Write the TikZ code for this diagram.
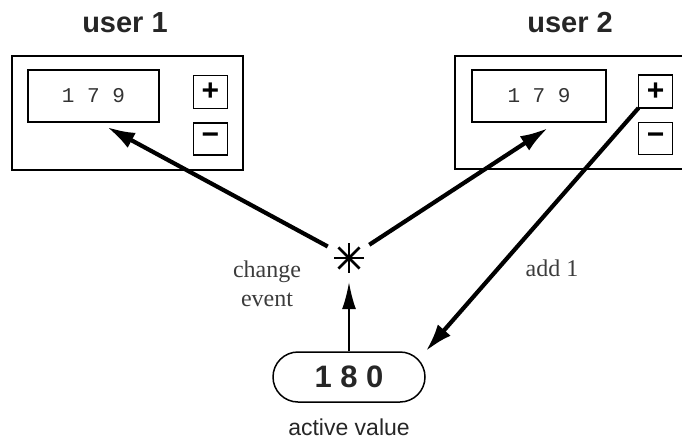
\documentclass[tikz,border=0pt]{standalone}
\usepackage{fontspec}
\setmainfont{Liberation Serif}
\setsansfont{Liberation Sans}
\setmonofont{Liberation Mono}
\usetikzlibrary{arrows.meta,calc}
\definecolor{txtgray}{RGB}{60,60,60}
\begin{document}
\begin{tikzpicture}[x=1pt,y=-1pt,
  box/.style={draw, line width=1.9pt, inner sep=0pt, outer sep=0pt},
  title/.style={font=\sffamily\bfseries\fontsize{29}{30}\selectfont, text=black!85},
  digits/.style={font=\ttfamily\fontsize{21}{24}\selectfont, text=black!80},
  btn/.style={box, minimum width=34pt, minimum height=33pt, font=\sffamily\bfseries\fontsize{30}{30}\selectfont},
  bigarrow/.style={line width=4.2pt, -{Latex[length=28pt,width=17pt]}},
  thinarrow/.style={line width=1.8pt, -{Latex[length=27pt,width=14pt]}},
  lbl/.style={font=\fontsize{24}{29}\selectfont, text=txtgray},
  spoke/.style={line width=2.8pt}
]
\useasboundingbox (0,0) rectangle (682,441);
\clip (0,0) rectangle (682,441);

% user 1
\node[title] (u1t) at (125,23) {user 1};
\node[box, minimum width=231pt, minimum height=114pt] (u1) at (127.5,113) {};
\node[box, digits, minimum width=131pt, minimum height=52pt] (u1d) at (93.5,96) {1 7 9};
\node[btn] (u1p) at (210.5,92) {+};
\node[btn, minimum height=32pt] (u1m) at (210.5,139) {−};

% user 2
\node[title] (u2t) at (570,23) {user 2};
\node[box, minimum width=245pt, minimum height=113pt] (u2) at (577.5,112.5) {};
\node[box, digits, minimum width=134pt, minimum height=52pt] (u2d) at (539,96) {1 7 9};
\node[btn] (u2p) at (655.5,91.5) {+};
\node[btn, minimum height=32pt] (u2m) at (655.5,138.5) {−};

% change event
\node[circle, minimum size=48pt, inner sep=0pt] (star) at (349,258) {};
\foreach \a in {0,45,...,315} \draw[spoke] (star.center) -- ++(\a:15);
\node[lbl, align=center] (ce) at (267,284) {change\\event};

% active value
\node[draw, line width=1.5pt, rounded corners=25pt, minimum width=152pt, minimum height=50pt,
      font=\sffamily\bfseries\fontsize{31}{31}\selectfont, text=black!85] (av) at (349,377) {1 8 0};
\node[font=\sffamily\fontsize{23}{23}\selectfont, text=black!85] (avl) at (349,427) {active value};
\node[lbl] (add) at (552,268) {add 1};

% connectors
\coordinate (t1) at (107,127);
\coordinate (t2) at (548,128);
\draw[bigarrow] (star) -- (t1);
\draw[bigarrow] (star) -- (t2);
\draw[thinarrow] (av.north) -- (star.south);
\draw[bigarrow] (u2p.south west) -- (av.north east);
\end{tikzpicture}
\end{document}
